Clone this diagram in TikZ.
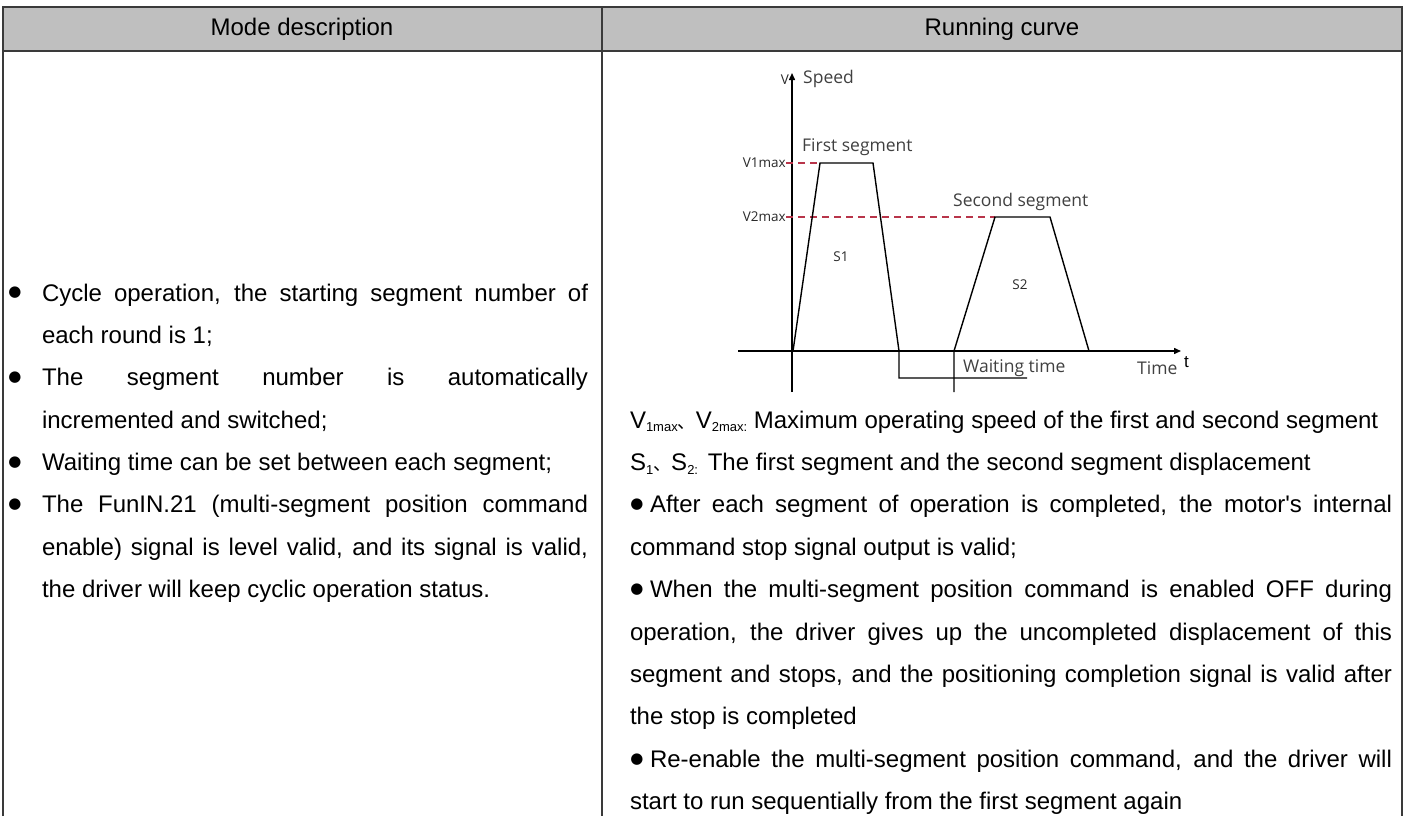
\documentclass[tikz,border=0pt]{standalone}
\usepackage{fontspec}
\setmainfont{Liberation Sans}
\newfontfamily\cjkfont{Noto Sans CJK SC}
\newfontfamily\chartfont{Open Sans}
\newfontfamily\symfont{DejaVu Sans}
\usetikzlibrary{arrows.meta}
\definecolor{hdrfill}{HTML}{BFBFBF}
\definecolor{rulecol}{HTML}{3A3A3A}
\definecolor{dashred}{HTML}{B8354A}
\definecolor{charttext}{HTML}{404040}
\definecolor{chartdark}{HTML}{2A2A2A}
\newcommand\bodysize{\fontsize{24}{42}\selectfont}
\newcommand\sbs[1]{\raisebox{-0.3ex}{\fontsize{13}{13}\selectfont #1}}
\newcommand\dun{\mbox{\cjkfont\fontsize{18}{18}\selectfont 、}}
\newcommand\blt{{\symfont\fontsize{15}{15}\selectfont ●}}
\newcommand\jl[2]{\makebox[#1][s]{#2}}
\begin{document}
\begin{tikzpicture}[x=1pt,y=-1pt,
  txtline/.style={font=\bodysize, anchor=base west, inner sep=0pt, outer sep=0pt},
  bul/.style={inner sep=0pt, outer sep=0pt},
  hdrtext/.style={font=\fontsize{24}{24}\selectfont, inner sep=0pt},
  tblrule/.style={rulecol, line width=1.6pt},
  axisline/.style={black, line width=1.4pt, -{Triangle[length=7pt,width=6pt]}},
  curveline/.style={black, line width=1.4pt, line join=miter},
  refline/.style={dashred, line width=1.3pt, dash pattern=on 7pt off 5pt},
  ctext/.style={font=\chartfont\fontsize{17.5}{17.5}\selectfont, text=charttext, inner sep=0pt},
  csmall/.style={font=\chartfont\fontsize{13.5}{13.5}\selectfont, text=chartdark, inner sep=0pt}]
\useasboundingbox (0,0) rectangle (1407,816);
% table
\fill[hdrfill] (3,7) rectangle (1402,51);
\draw[tblrule] (3,816) -- (3,7) -- (1402,7) -- (1402,816);
\draw[tblrule] (3,51) -- (1402,51);
\draw[tblrule] (602,7) -- (602,816);
\node[hdrtext] (h1) at (302,29) {Mode description};
\node[hdrtext] (h2) at (1002,29) {Running curve};
% left column (rows aligned with the right column, pitch 42.4)
\node[bul] (lb1) at (15,293) {\blt};
\node[txtline] (l1) at (42,301) {\jl{546pt}{Cycle operation, the starting segment number of}};
\node[txtline] (l2) at (42,343.2) {each round is 1;};
\node[bul] (lb2) at (15,377.6) {\blt};
\node[txtline] (l3) at (42,385.6) {\jl{546pt}{The segment number is automatically}};
\node[txtline] (l4) at (42,428) {incremented and switched;};
\node[bul] (lb3) at (15,462.4) {\blt};
\node[txtline] (l5) at (42,470.4) {Waiting time can be set between each segment;};
\node[bul] (lb4) at (15,504.8) {\blt};
\node[txtline] (l6) at (42,512.8) {\jl{546pt}{The FunIN.21 (multi-segment position command}};
\node[txtline] (l7) at (42,555.2) {\jl{546pt}{enable) signal is level valid, and its signal is valid,}};
\node[txtline] (l8) at (42,597.6) {the driver will keep cyclic operation status.};
% right column text
\node[txtline] (r1) at (630,428) {V\sbs{1max}\dun V\sbs{2max:} Maximum operating speed of the first and second segment};
\node[txtline] (r2) at (630,470.4) {S\sbs{1}\dun S\sbs{2:}\hspace{3pt} The first segment and the second segment displacement};
\node[bul] (rb1) at (637,504.8) {\blt};
\node[txtline] (r3) at (650,512.8) {\jl{742pt}{After each segment of operation is completed, the motor\textquotesingle s internal}};
\node[txtline] (r4) at (630,555.2) {command stop signal output is valid;};
\node[bul] (rb2) at (637,589.6) {\blt};
\node[txtline] (r5) at (650,597.6) {\jl{742pt}{When the multi-segment position command is enabled OFF during}};
\node[txtline] (r6) at (630,640) {\jl{762pt}{operation, the driver gives up the uncompleted displacement of this}};
\node[txtline] (r7) at (630,682.4) {\jl{762pt}{segment and stops, and the positioning completion signal is valid after}};
\node[txtline] (r8) at (630,724.8) {the stop is completed};
\node[bul] (rb3) at (637,759.2) {\blt};
\node[txtline] (r9) at (650,767.2) {\jl{742pt}{Re-enable the multi-segment position command, and the driver will}};
\node[txtline] (r10) at (630,809.6) {start to run sequentially from the first segment again};
% chart
\coordinate (yb) at (792,392);
\coordinate (yt) at (792,73);
\coordinate (xl) at (738,351);
\coordinate (xr) at (1181,351);
\draw[axisline] (yb) -- (yt);
\draw[axisline] (xl) -- (xr);
\coordinate (d1a) at (786,163);
\coordinate (d1b) at (820,163);
\coordinate (d2a) at (786,217);
\coordinate (d2b) at (995,217);
\draw[refline] (d1a) -- (d1b);
\draw[refline] (d2a) -- (d2b);
\draw[curveline] (793,351) -- (d1b) -- (873,163) -- (899,351) -- (899,378) -- (1027,378);
\draw[curveline] (954,392) -- (954,351) -- (d2b) -- (1050,217) -- (1089,351);
\node[csmall, anchor=east] (vl) at (789,80) {V};
\node[ctext, anchor=west] (sp) at (803,79) {Speed};
\node[ctext, anchor=west] (fs) at (802,147) {First segment};
\node[ctext, anchor=west] (ss) at (953,202) {Second segment};
\node[csmall, anchor=east] (v1) at (786,163) {V1max};
\node[csmall, anchor=east] (v2) at (786,217) {V2max};
\node[csmall] (s1) at (841,257) {S1};
\node[csmall] (s2) at (1020,285) {S2};
\node[ctext, anchor=west] (wt) at (963,368) {Waiting time};
\node[ctext, anchor=west] (tm) at (1137,368) {Time};
\node[font=\fontsize{17}{17}\selectfont, anchor=west, inner sep=0pt] (tt) at (1184,362) {t};
\end{tikzpicture}
\end{document}
